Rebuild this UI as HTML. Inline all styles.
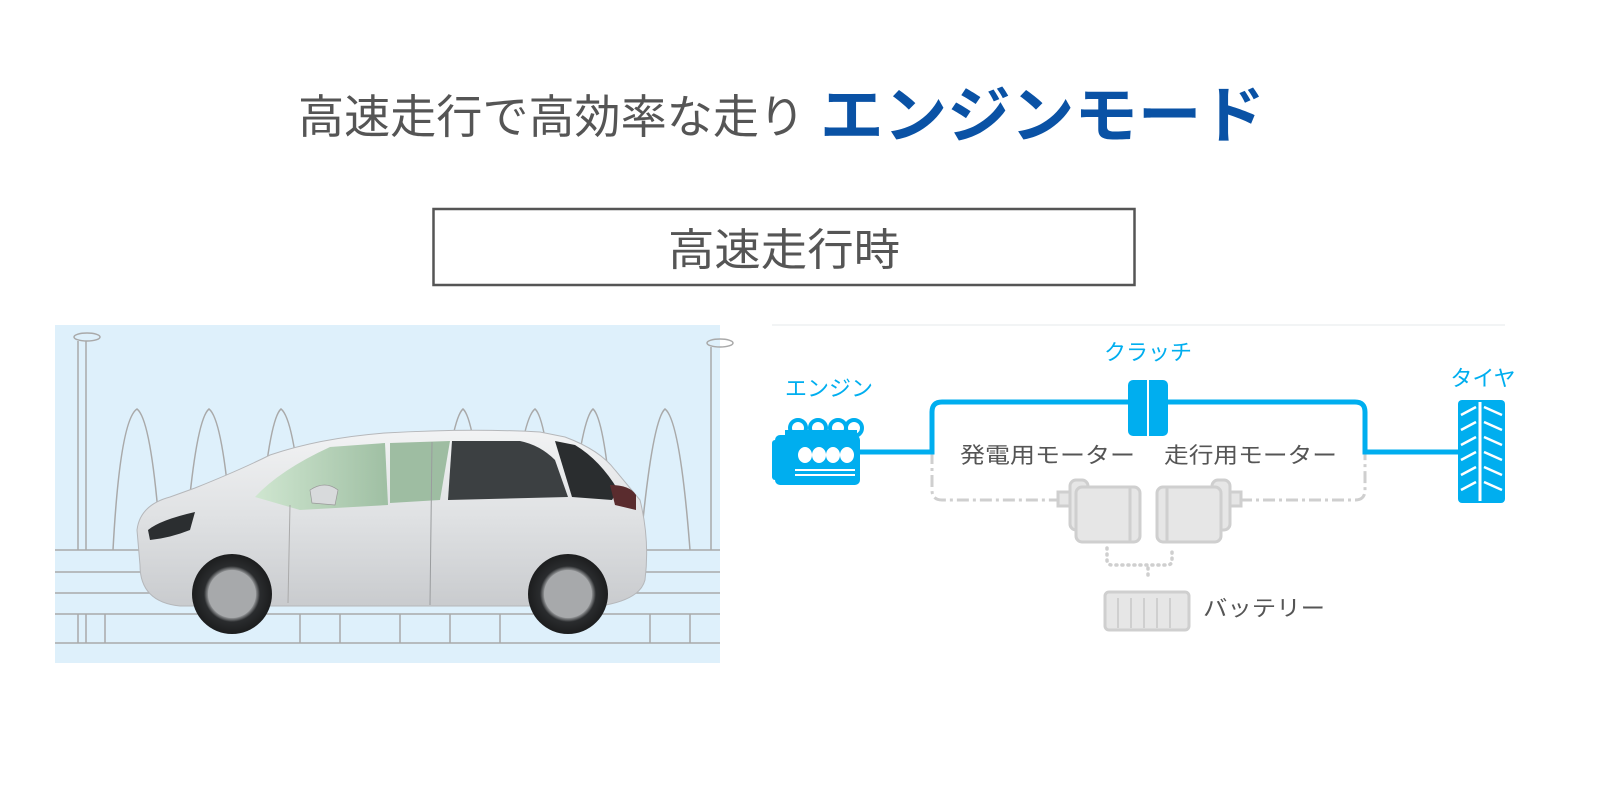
<!DOCTYPE html>
<html><head><meta charset="utf-8"><style>
html,body{margin:0;padding:0;background:#fff;}
svg{display:block;}
text{font-family:"Liberation Sans","Noto Sans CJK JP",sans-serif;}
</style></head><body>
<svg width="1600" height="800" viewBox="0 0 1600 800" xmlns="http://www.w3.org/2000/svg">
<rect width="1600" height="800" fill="#fff"/>
<!-- title -->
<text x="298" y="133" font-size="46" fill="#555" textLength="507" lengthAdjust="spacingAndGlyphs">高速走行で高効率な走り</text>
<text x="820" y="137" font-size="62" font-weight="bold" fill="#0a52a5" textLength="445" lengthAdjust="spacingAndGlyphs">エンジンモード</text>
<!-- box -->
<rect x="433.5" y="209" width="701" height="76" fill="none" stroke="#555" stroke-width="2.5"/>
<text x="784" y="265" font-size="44" fill="#555" text-anchor="middle" textLength="232" lengthAdjust="spacingAndGlyphs">高速走行時</text>

<!-- car panel -->
<rect x="55" y="325" width="665" height="338" fill="#def0fb"/>
<g fill="none" stroke="#a9a9a9" stroke-width="1.5">
 <ellipse cx="87" cy="337" rx="13" ry="4"/>
 <line x1="78" y1="341" x2="78" y2="550"/><line x1="86" y1="341" x2="86" y2="550"/>
 <ellipse cx="720" cy="343" rx="13" ry="4"/>
 <line x1="711" y1="347" x2="711" y2="550"/>
 <path d="M113 550 Q120 420 137 409 Q152 420 161 550"/>
 <path d="M185 550 Q195 420 209 409 Q224 420 233 550"/>
 <path d="M258 550 Q268 420 281 409 Q296 420 305 550"/>
 <path d="M438 550 Q450 420 463 409 Q476 420 485 550"/>
 <path d="M510 550 Q520 420 535 409 Q548 420 557 550"/>
 <path d="M568 550 Q580 420 593 409 Q606 420 615 550"/>
 <path d="M640 550 Q652 420 665 409 Q680 420 690 550"/>
 <line x1="55" y1="550" x2="720" y2="550"/>
 <line x1="55" y1="572" x2="720" y2="572"/>
 <line x1="55" y1="593" x2="720" y2="593"/>
 <line x1="55" y1="614" x2="720" y2="614"/>
 <line x1="55" y1="643" x2="720" y2="643"/>
 <line x1="78" y1="614" x2="78" y2="643"/><line x1="86" y1="614" x2="86" y2="643"/>
 <line x1="105" y1="614" x2="105" y2="643"/><line x1="300" y1="614" x2="300" y2="643"/>
 <line x1="340" y1="614" x2="340" y2="643"/><line x1="400" y1="614" x2="400" y2="643"/>
 <line x1="450" y1="614" x2="450" y2="643"/><line x1="500" y1="614" x2="500" y2="643"/>
 <line x1="650" y1="614" x2="650" y2="643"/><line x1="690" y1="614" x2="690" y2="643"/>
</g>
<!-- car -->
<defs>
 <linearGradient id="body" x1="0" y1="0" x2="0" y2="1"><stop offset="0" stop-color="#f2f3f4"/><stop offset="0.5" stop-color="#dfe1e3"/><stop offset="1" stop-color="#c9cbce"/></linearGradient>
 <linearGradient id="glass" x1="0" y1="0" x2="1" y2="0"><stop offset="0" stop-color="#cfe6d0"/><stop offset="1" stop-color="#9fbfa3"/></linearGradient>
 <radialGradient id="wheel"><stop offset="0" stop-color="#9a9c9e"/><stop offset="0.55" stop-color="#c4c6c8"/><stop offset="0.7" stop-color="#2a2c2e"/><stop offset="1" stop-color="#1c1d1e"/></radialGradient>
</defs>
<path d="M140 565 L137 530 Q140 505 170 497 L195 488 Q240 470 270 455 Q320 438 385 433 Q470 428 540 432 L565 437 Q600 450 615 470 L640 500 Q650 540 645 580 Q640 600 600 606 L180 606 Q140 602 140 565 Z" fill="url(#body)" stroke="#b5b7ba" stroke-width="1"/>
<path d="M255 497 Q280 470 330 447 L385 443 L388 505 L300 510 Z" fill="url(#glass)"/>
<path d="M390 443 L450 441 L440 500 L390 503 Z" fill="#9ebda2"/>
<path d="M452 441 L520 441 Q540 445 555 460 L568 497 L448 500 Z" fill="#3c4042"/>
<path d="M555 441 L575 445 Q600 460 618 490 L612 500 L572 497 Z" fill="#2a2d2f"/>
<path d="M310 490 Q325 480 338 490 L335 505 L312 503 Z" fill="#d8dadc" stroke="#999" stroke-width="0.7"/>
<path d="M148 530 Q160 520 195 512 L190 530 Q170 538 150 540 Z" fill="#2b2e30"/>
<path d="M610 485 Q630 485 636 495 L636 510 L615 505 Z" fill="#5a2c2e"/>
<line x1="432" y1="442" x2="430" y2="605" stroke="#9a9c9e" stroke-width="1"/>
<line x1="290" y1="505" x2="288" y2="603" stroke="#aaa" stroke-width="1"/>
<circle cx="232" cy="594" r="40" fill="url(#wheel)"/>
<circle cx="232" cy="594" r="24" fill="#a7a9ab"/>
<circle cx="568" cy="594" r="40" fill="url(#wheel)"/>
<circle cx="568" cy="594" r="24" fill="#a7a9ab"/>

<!-- diagram -->
<line x1="772" y1="325" x2="1505" y2="325" stroke="#eef0f2" stroke-width="1.5"/>
<g fill="none" stroke="#cfcfcf" stroke-width="3" stroke-dasharray="12 4 3 4">
 <path d="M932 452 L932 490 Q932 500 942 500 L1060 500"/>
 <path d="M1240 500 L1355 500 Q1365 500 1365 490 L1365 452"/>
</g>
<g fill="none" stroke="#cfcfcf" stroke-width="3.5" stroke-dasharray="1 5" stroke-linecap="round">
 <path d="M1017 548 L1017 560 Q1017 565 1022 565 L1077 565 Q1082 565 1082 560 L1082 548" transform="translate(90,0)"/>
 <line x1="1148" y1="568" x2="1148" y2="580"/>
</g>
<!-- motors -->
<g fill="#e6e6e6" stroke="#cfcfcf" stroke-width="3">
 <rect x="1058" y="492" width="14" height="14"/>
 <rect x="1070" y="480" width="18" height="50" rx="6"/>
 <rect x="1076" y="487" width="64" height="55" rx="6"/>
 <line x1="1130" y1="488" x2="1130" y2="541"/>
 <rect x="1227" y="492" width="14" height="14"/>
 <rect x="1212" y="480" width="18" height="50" rx="6"/>
 <rect x="1157" y="487" width="64" height="55" rx="6"/>
 <line x1="1167" y1="488" x2="1167" y2="541"/>
 <rect x="1105" y="592" width="84" height="38" rx="4"/>
</g>
<g stroke="#cfcfcf" stroke-width="2"><line x1="1118" y1="598" x2="1118" y2="628"/><line x1="1131" y1="598" x2="1131" y2="628"/><line x1="1144" y1="598" x2="1144" y2="628"/><line x1="1157" y1="598" x2="1157" y2="628"/><line x1="1170" y1="598" x2="1170" y2="628"/></g>
<!-- blue path -->
<path d="M860 452 L932 452 L932 412 Q932 402 942 402 L1355 402 Q1365 402 1365 412 L1365 452 L1458 452" fill="none" stroke="#00aeef" stroke-width="5"/>
<rect x="1128" y="380" width="40" height="56" rx="5" fill="#00aeef"/>
<line x1="1148" y1="380" x2="1148" y2="436" stroke="#fff" stroke-width="2"/>
<!-- engine -->
<g fill="#00aeef">
 <rect x="775" y="435" width="85" height="50" rx="5"/>
 <rect x="772" y="440" width="8" height="40" rx="3"/>
 <circle cx="798" cy="428" r="8" fill="none" stroke="#00aeef" stroke-width="4"/>
 <circle cx="818" cy="428" r="8" fill="none" stroke="#00aeef" stroke-width="4"/>
 <circle cx="838" cy="428" r="8" fill="none" stroke="#00aeef" stroke-width="4"/>
 <circle cx="858" cy="428" r="8" fill="none" stroke="#00aeef" stroke-width="4" transform="translate(-4,0)"/>
 <rect x="785" y="430" width="72" height="10"/>
</g>
<g fill="#fff"><ellipse cx="805" cy="455" rx="7" ry="8"/><ellipse cx="819" cy="455" rx="7" ry="8"/><ellipse cx="833" cy="455" rx="7" ry="8"/><ellipse cx="847" cy="455" rx="7" ry="8"/>
<rect x="795" y="469" width="60" height="2"/><rect x="795" y="474" width="60" height="2"/></g>
<!-- tire -->
<rect x="1458" y="400" width="47" height="103" rx="4" fill="#00aeef"/>
<line x1="1480" y1="402" x2="1480" y2="501" stroke="#fff" stroke-width="3"/>
<g stroke="#fff" stroke-width="2.5">
 <line x1="1461" y1="415" x2="1476" y2="407"/><line x1="1461" y1="430" x2="1476" y2="422"/><line x1="1461" y1="445" x2="1476" y2="437"/><line x1="1461" y1="460" x2="1476" y2="452"/><line x1="1461" y1="475" x2="1476" y2="467"/><line x1="1461" y1="490" x2="1476" y2="482"/>
 <line x1="1484" y1="407" x2="1502" y2="415"/><line x1="1484" y1="422" x2="1502" y2="430"/><line x1="1484" y1="437" x2="1502" y2="445"/><line x1="1484" y1="452" x2="1502" y2="460"/><line x1="1484" y1="467" x2="1502" y2="475"/><line x1="1484" y1="482" x2="1502" y2="490"/>
</g>
<!-- labels -->
<text x="829" y="396" font-size="22" fill="#00aeef" text-anchor="middle">エンジン</text>
<text x="1148" y="360" font-size="22" fill="#00aeef" text-anchor="middle">クラッチ</text>
<text x="1483" y="386" font-size="22" fill="#00aeef" text-anchor="middle">タイヤ</text>
<text x="960" y="463" font-size="22" fill="#555" textLength="175" lengthAdjust="spacingAndGlyphs">発電用モーター</text>
<text x="1164" y="463" font-size="22" fill="#555" textLength="173" lengthAdjust="spacingAndGlyphs">走行用モーター</text>
<text x="1203" y="616" font-size="22" fill="#555" textLength="122" lengthAdjust="spacingAndGlyphs">バッテリー</text>
</svg>
</body></html>
